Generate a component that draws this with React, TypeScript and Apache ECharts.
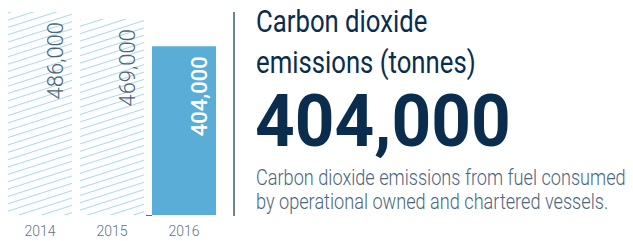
import React, { useEffect, useRef } from "react";
import * as echarts from "echarts";

const years = ["2014", "2015", "2016"];
const emissions = [486000, 469000, 404000];
const titleLines = ["Carbon dioxide", "emissions (tonnes)"];
const headline = "404,000";
const descLines = [
  "Carbon dioxide emissions from fuel consumed",
  "by operational owned and chartered vessels.",
];

const NAVY = "#0a2d4e";
const SLATE = "#4b6580";
const BAR_BLUE = "#5aadd7";
const HATCH = "#a9d9ef";

export default function App() {
  const ref = useRef<HTMLDivElement>(null);
  useEffect(() => {
    if (!ref.current) return;
    const chart = echarts.init(ref.current, null, { renderer: "svg" });
    const hatchDecal = {
      symbol: "rect",
      symbolSize: 1,
      color: HATCH,
      dashArrayX: [1, 0],
      dashArrayY: [1, 5.8],
      rotation: -0.31,
    };
    const last = emissions.length - 1;
    const data = emissions.map((v, i) =>
      i === last
        ? {
            value: v,
            itemStyle: { color: BAR_BLUE },
            label: { color: "#ffffff", fontWeight: 500 },
          }
        : {
            value: v,
            itemStyle: { color: "#ffffff", decal: hatchDecal },
            label: { color: "#4d6478", fontWeight: 300 },
          }
    );
    const textEl = (
      text: string,
      x: number,
      y: number,
      font: string,
      fill: string,
      scaleX: number
    ) => ({
      type: "text",
      x,
      y,
      scaleX,
      silent: true,
      style: {
        text,
        x: 0,
        y: 0,
        font,
        fill,
        align: "left",
        verticalAlign: "middle",
      },
    });
    chart.setOption({
      animation: false,
      grid: { left: 4, width: 216, top: 12, bottom: 26 },
      xAxis: {
        type: "category",
        data: years,
        axisLine: { show: false },
        axisTick: { show: false },
        axisLabel: {
          color: "#5f7286",
          fontFamily: "Roboto",
          fontWeight: 300,
          fontSize: 14,
          margin: 9,
        },
      },
      yAxis: { type: "value", min: 0, max: 486000, show: false },
      series: [
        {
          type: "bar",
          data,
          barWidth: 64,
          label: {
            show: true,
            rotate: 90,
            position: [47, 10],
            align: "right",
            verticalAlign: "middle",
            fontFamily: "Roboto",
            fontSize: 22,
            formatter: (p: any) => Number(p.value).toLocaleString("en-US"),
          },
        },
      ],
      graphic: [
        {
          type: "line",
          silent: true,
          shape: { x1: 146, y1: 215.5, x2: 152, y2: 215.5 },
          style: { stroke: "#5a6b7b", lineWidth: 1 },
        },
        {
          type: "line",
          silent: true,
          shape: { x1: 234, y1: 12, x2: 234, y2: 216 },
          style: { stroke: "#3c5a76", lineWidth: 1.5 },
        },
        textEl(titleLines[0], 256, 22, "400 31px Roboto", NAVY, 0.83),
        textEl(titleLines[1], 256, 63, "400 31px Roboto", NAVY, 0.83),
        textEl(headline, 255, 121, "700 73px Roboto", NAVY, 0.95),
        textEl(descLines[0], 256, 177, "300 22px Roboto", SLATE, 0.825),
        textEl(descLines[1], 256, 201.5, "300 22px Roboto", SLATE, 0.825),
      ],
    });
    return () => chart.dispose();
  }, []);
  return (
    <div
      ref={ref}
      style={{ position: "absolute", left: 0, top: 0, width: 633, height: 241 }}
    />
  );
}
